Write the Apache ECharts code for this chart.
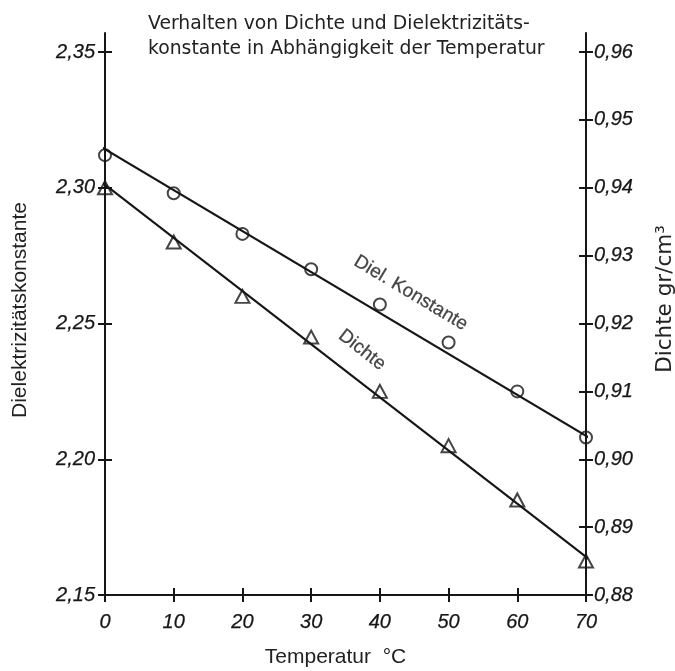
<!DOCTYPE html>
<html>
<head>
<meta charset="utf-8">
<title>Dichte und Dielektrizitätskonstante</title>
<script src="https://cdn.jsdelivr.net/npm/echarts@6/dist/echarts.min.js"></script>
<style>
  html, body { margin: 0; padding: 0; background: #fff; overflow: hidden; }
  #chart { width: 675px; height: 671px; }
</style>
</head>
<body>
<div id="chart"></div>
<script>
// Measured temperatures (°C)
const temps = [0, 10, 20, 30, 40, 50, 60, 70];
// Dielectric constant (left axis)
const dielValues = [2.312, 2.298, 2.283, 2.270, 2.257, 2.243, 2.225, 2.208];
// Density in g/cm³ (right axis)
const dichteValues = [0.940, 0.932, 0.924, 0.918, 0.910, 0.902, 0.894, 0.885];
// Straight fit lines, drawn a little past the measured range
const dielFit = [[-1.0, 2.3157], [72.5, 2.2049]];
const dichteFit = [[-0.3, 0.9407], [71.3, 0.8846]];
// Axis tick labels
const dielTicks = [2.15, 2.20, 2.25, 2.30, 2.35];
const dichteTicks = [0.88, 0.89, 0.90, 0.91, 0.92, 0.93, 0.94, 0.95, 0.96];
const tempTicks = [0, 10, 20, 30, 40, 50, 60, 70];
// Curve captions, placed in data coordinates
const dielCaption = { text: 'Diel. Konstante', at: [44.5, 2.2612] };
const dichteCaption = { text: 'Dichte', at: [37.4, 0.9161] };

const INK = '#161616';
// hand-lettered look: italic with a faint outline to thicken the strokes
const handFont = {
  fontFamily: 'Liberation Sans', fontStyle: 'italic', fontSize: 20, color: INK,
  textBorderColor: INK, textBorderWidth: 0.25
};
const comma = v => Number(v).toFixed(2).replace('.', ',');
const tickStyle = { color: INK, width: 2 };

const chart = echarts.init(document.getElementById('chart'), null, { renderer: 'canvas' });

// the left axis line runs a little above its top tick
const yMaxLeft = 2.357;
const yMaxRight = 0.9628;
const gridTop = 33, gridBottom = 76;
const gridHeight = 671 - gridTop - gridBottom;

function yAx(opts) {
  return Object.assign({
    type: 'value',
    splitLine: { show: false },
    axisLine: { show: true, onZero: false, lineStyle: { color: INK, width: 2 } },
  }, opts);
}

chart.setOption({
  backgroundColor: '#fff',
  animation: false,
  title: {
    text: 'Verhalten von Dichte und Dielektrizitäts-\nkonstante in Abhängigkeit der Temperatur',
    left: 143,
    top: 7,
    textStyle: { fontFamily: 'DejaVu Sans', fontSize: 18.8, fontWeight: 'normal', color: '#222', lineHeight: 25 }
  },
  grid: { left: 105, right: 89, top: gridTop, bottom: gridBottom, containLabel: false, outerBoundsMode: 'none' },
  xAxis: [
    {
      type: 'value', min: 0, max: 70, interval: 10, position: 'bottom',
      name: 'Temperatur  °C', nameLocation: 'middle', nameGap: 52,
      nameTextStyle: { fontFamily: 'Liberation Sans', fontSize: 21, color: '#222', padding: [0, 20, 0, 0] },
      splitLine: { show: false },
      axisLine: { onZero: false, lineStyle: { color: INK, width: 2 } },
      axisTick: { inside: false, length: 7, lineStyle: tickStyle },
      axisLabel: Object.assign({}, handFont, { margin: 17, customValues: tempTicks, formatter: v => String(v) })
    },
    {
      // upward half of the crossing ticks, moved down onto the bottom edge
      type: 'value', min: 0, max: 70, interval: 10, position: 'top', offset: -gridHeight,
      splitLine: { show: false },
      axisLine: { show: false, onZero: false },
      axisTick: { inside: false, length: 7, lineStyle: tickStyle },
      axisLabel: { show: false }
    }
  ],
  yAxis: [
    yAx({
      position: 'left', min: 2.15, max: yMaxLeft,
      name: 'Dielektrizitätskonstante', nameLocation: 'middle', nameGap: 74, nameRotate: 90,
      nameTextStyle: { fontFamily: 'Liberation Sans', fontSize: 21, color: '#222', padding: [0, 0, 0, 8] },
      axisTick: { inside: false, length: 7, customValues: dielTicks, lineStyle: tickStyle },
      axisLabel: Object.assign({}, handFont, { margin: 10, customValues: dielTicks, formatter: comma })
    }),
    yAx({
      position: 'right', min: 0.88, max: yMaxRight,
      name: 'Dichte gr/cm³', nameLocation: 'middle', nameGap: 68, nameRotate: 90,
      nameTextStyle: { fontFamily: 'DejaVu Sans', fontSize: 21.5, color: '#222', padding: [0, 0, 0, 30] },
      axisTick: { inside: false, length: 7, customValues: dichteTicks, lineStyle: tickStyle },
      axisLabel: Object.assign({}, handFont, { margin: 8, customValues: dichteTicks, formatter: comma })
    }),
    // inner halves of the crossing ticks
    yAx({
      position: 'left', min: 2.15, max: yMaxLeft,
      axisLine: { show: false, onZero: false },
      axisTick: { inside: true, length: 7, customValues: dielTicks, lineStyle: tickStyle },
      axisLabel: { show: false }
    }),
    yAx({
      position: 'right', min: 0.88, max: yMaxRight,
      axisLine: { show: false, onZero: false },
      axisTick: { inside: true, length: 7, customValues: dichteTicks, lineStyle: tickStyle },
      axisLabel: { show: false }
    })
  ],
  series: [
    {
      type: 'line', name: 'Diel. Konstante Gerade', yAxisIndex: 0, clip: false,
      data: dielFit, symbol: 'none', lineStyle: { color: INK, width: 2.2 }, z: 2
    },
    {
      type: 'line', name: 'Dichte Gerade', yAxisIndex: 1, clip: false,
      data: dichteFit, symbol: 'none', lineStyle: { color: INK, width: 2.2 }, z: 2
    },
    {
      type: 'scatter', name: 'Diel. Konstante', yAxisIndex: 0, clip: false,
      data: temps.map((t, i) => [t, dielValues[i]]),
      symbol: 'circle', symbolSize: 12,
      itemStyle: { color: 'rgba(255,255,255,0)', borderColor: INK, borderWidth: 2 }, z: 3
    },
    {
      type: 'scatter', name: 'Dichte', yAxisIndex: 1, clip: false,
      data: temps.map((t, i) => [t, dichteValues[i]]),
      symbol: 'triangle', symbolSize: [14, 13],
      itemStyle: { color: 'rgba(255,255,255,0)', borderColor: INK, borderWidth: 2 }, z: 3
    },
    {
      type: 'scatter', yAxisIndex: 0, silent: true,
      data: [dielCaption.at], symbol: 'circle', symbolSize: 1,
      itemStyle: { color: 'rgba(0,0,0,0)' },
      label: Object.assign({ show: true, position: 'inside', formatter: dielCaption.text, rotate: -31 },
        handFont, { fontStyle: 'normal', fontSize: 19 })
    },
    {
      type: 'scatter', yAxisIndex: 1, silent: true,
      data: [dichteCaption.at], symbol: 'circle', symbolSize: 1,
      itemStyle: { color: 'rgba(0,0,0,0)' },
      label: Object.assign({ show: true, position: 'inside', formatter: dichteCaption.text, rotate: -38 },
        handFont, { fontStyle: 'normal', fontSize: 19 })
    }
  ]
});
</script>
</body>
</html>
